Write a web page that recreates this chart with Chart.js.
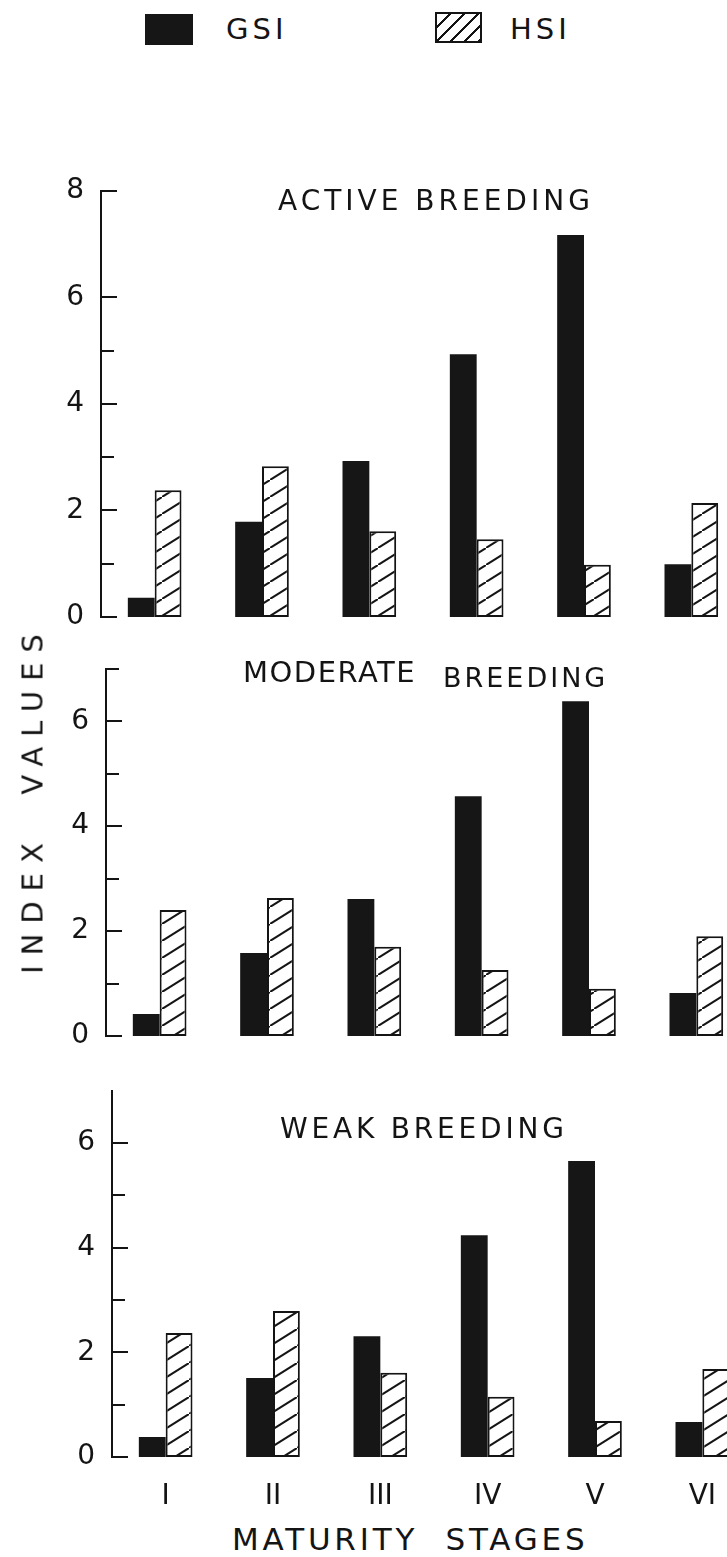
<!DOCTYPE html>
<html><head><meta charset="utf-8">
<script src="https://cdn.jsdelivr.net/npm/chart.js@4.4.1/dist/chart.umd.min.js"></script>
<style>
html,body{margin:0;padding:0;width:727px;height:1557px;overflow:hidden;background:#fff;}
body{position:relative;font-family:'DejaVu Sans',sans-serif;color:#141414;}
canvas{position:absolute;left:0;}
.t{position:absolute;white-space:nowrap;line-height:1;font-weight:400;}
.box{position:absolute;}
</style></head><body>
<div class="box" style="left:145px;top:14px;width:48px;height:31px;background:#161616;"></div>
<div class="t" style="left:226px;top:15px;font-size:29px;letter-spacing:4px;">GSI</div>
<div class="box" style="left:435px;top:12px;width:43px;height:27px;border:2px solid #141414;background:repeating-linear-gradient(135deg,#fff 0 8px,#141414 8px 10px);"></div>
<div class="t" style="left:510px;top:15px;font-size:29px;letter-spacing:4px;">HSI</div>

<canvas id="c1"></canvas>
<canvas id="c2"></canvas>
<canvas id="c3"></canvas>

<div class="t" style="left:278px;top:187px;font-size:28px;letter-spacing:4px;">ACTIVE BREEDING</div>
<div class="t" style="left:243px;top:658px;font-size:29px;letter-spacing:1.5px;">MODERATE</div>
<div class="t" style="left:443px;top:664px;font-size:27px;letter-spacing:3px;">BREEDING</div>
<div class="t" style="left:280px;top:1115px;font-size:28px;letter-spacing:3.8px;">WEAK BREEDING</div>
<div class="t" style="left:33px;top:799px;font-size:29px;letter-spacing:10px;transform:translate(-50%,-50%) rotate(-90deg);">INDEX&nbsp; VALUES</div>
<div class="t" style="left:232px;top:1524px;font-size:31px;letter-spacing:3.8px;">MATURITY&nbsp; STAGES</div>

<script>
// ---- data ----
const stages = ['I', 'II', 'III', 'IV', 'V', 'VI'];
const activeGSI   = [0.36, 1.79, 2.93, 4.93, 7.17, 0.99];
const activeHSI   = [2.38, 2.83, 1.61, 1.46, 0.98, 2.14];
const moderateGSI = [0.42, 1.58, 2.61, 4.57, 6.38, 0.82];
const moderateHSI = [2.40, 2.63, 1.70, 1.26, 0.90, 1.90];
const weakGSI     = [0.38, 1.51, 2.31, 4.24, 5.66, 0.67];
const weakHSI     = [2.37, 2.79, 1.61, 1.15, 0.69, 1.68];
const activeMax = 8, moderateMax = 7, weakMax = 7;
const activeMajorTicks = [0, 2, 4, 6, 8], activeMinorTicks = [1, 3, 5];
const moderateMajorTicks = [0, 2, 4, 6], moderateMinorTicks = [1, 3, 5, 7];
const weakMajorTicks = [0, 2, 4, 6], weakMinorTicks = [1, 3, 5];

// ---- style / layout ----
const INK = '#141414';
Chart.defaults.font.family = "'DejaVu Sans', sans-serif";
Chart.defaults.font.weight = '400';
Chart.defaults.color = INK;
const catW = 107.4;

function makeHatch() {
  const c = document.createElement('canvas');
  c.width = 27; c.height = 17;
  const g = c.getContext('2d');
  g.fillStyle = '#fff'; g.fillRect(0, 0, 27, 17);
  g.strokeStyle = INK; g.lineWidth = 2;
  g.beginPath(); g.moveTo(-27, 34); g.lineTo(54, -17); g.stroke();
  return c;
}
const hatchCanvas = makeHatch();

const inwardTicks = {
  id: 'inwardTicks',
  afterDraw(chart, args, opts) {
    const y = chart.scales.y, ctx = chart.ctx, x0 = chart.chartArea.left;
    ctx.save();
    ctx.strokeStyle = INK; ctx.lineWidth = 2;
    const draw = (v, len) => {
      const py = Math.round(y.getPixelForValue(v));
      ctx.beginPath(); ctx.moveTo(x0, py); ctx.lineTo(x0 + len, py); ctx.stroke();
    };
    (opts.major || []).forEach(v => draw(v, 16));
    (opts.minor || []).forEach(v => draw(v, 13));
    ctx.restore();
  }
};

function makeConfig(ctx, gsi, hsi, p, padTop, xBox) {
  const pattern = ctx.createPattern(hatchCanvas, 'repeat');
  return {
    type: 'bar',
    data: {
      labels: stages,
      datasets: [
        { label: 'GSI', data: gsi, backgroundColor: '#161616', borderColor: '#161616', borderWidth: 0,
          categoryPercentage: 0.5, barPercentage: 1.0 },
        { label: 'HSI', data: hsi, backgroundColor: pattern, borderColor: INK, borderWidth: 2,
          borderSkipped: false, categoryPercentage: 0.5, barPercentage: 1.0 }
      ]
    },
    options: {
      responsive: false, maintainAspectRatio: false, animation: false, devicePixelRatio: 1,
      layout: { padding: { top: padTop, bottom: p.showX ? 0 : 40, left: 0, right: 0 } },
      plugins: {
        legend: { display: false }, tooltip: { enabled: false },
        inwardTicks: { major: p.major, minor: p.minor }
      },
      scales: {
        x: {
          display: p.showX, offset: true,
          grid: { display: false, drawTicks: false }, border: { display: false },
          ticks: { font: { size: 28 }, padding: 23, color: INK, maxRotation: 0, autoSkip: false },
          afterFit: s => { if (p.showX) s.height = xBox; }
        },
        y: {
          min: 0, max: p.max,
          grid: { display: false, drawTicks: false },
          border: { display: true, color: INK, width: 2 },
          ticks: { stepSize: 1, autoSkip: false, padding: 17, color: INK, font: { size: 28 },
                   callback: v => (v % 2 === 0 ? String(v) : '') },
          afterFit: s => { s.width = p.axisX; }
        }
      }
    },
    plugins: [inwardTicks]
  };
}

function buildChart(id, gsi, hsi, p) {
  const canvas = document.getElementById(id);
  const ctx = canvas.getContext('2d');
  const wantH = p.max * p.ppu;
  const padTop = 30, xBox = 60;
  const W = Math.round(p.axisX + stages.length * catW);
  let H = Math.round(padTop + wantH + (p.showX ? xBox : 40));
  let chart = null;
  for (let i = 0; i < 5; i++) {
    canvas.width = W; canvas.height = H;
    canvas.style.width = W + 'px'; canvas.style.height = H + 'px';
    chart = new Chart(ctx, makeConfig(ctx, gsi, hsi, p, padTop, xBox));
    const ys = chart.scales.y;
    const gotH = ys.getPixelForValue(0) - ys.getPixelForValue(p.max);
    const d = Math.round(wantH - gotH);
    if (Math.abs(d) < 1) break;
    chart.destroy();
    H += d;
  }
  const y0 = chart.scales.y.getPixelForValue(0);
  if (p.showX) {
    // keep stage labels at a fixed distance below the zero line
    const delta = chart.scales.x.top - y0;
    chart.options.scales.x.ticks.padding = 23 - delta;
    chart.update('none');
  }
  canvas.style.top = Math.round(p.zeroY - chart.scales.y.getPixelForValue(0)) + 'px';
  return chart;
}

buildChart('c1', activeGSI, activeHSI,
  { axisX: 101, zeroY: 617, max: activeMax, ppu: 53.3, major: activeMajorTicks, minor: activeMinorTicks, showX: false });
buildChart('c2', moderateGSI, moderateHSI,
  { axisX: 106, zeroY: 1036, max: moderateMax, ppu: 52.5, major: moderateMajorTicks, minor: moderateMinorTicks, showX: false });
buildChart('c3', weakGSI, weakHSI,
  { axisX: 112, zeroY: 1457, max: weakMax, ppu: 52.3, major: weakMajorTicks, minor: weakMinorTicks, showX: true });
</script>
</body></html>
